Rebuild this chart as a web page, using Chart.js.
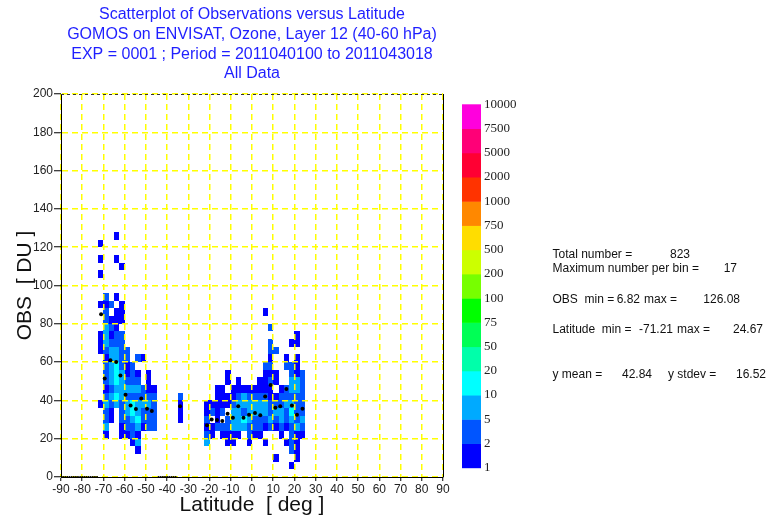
<!DOCTYPE html>
<html lang="en">
<head>
    <title>Scatterplot of Observations versus Latitude</title>
    <meta charset="utf-8">
    <script src="https://cdn.jsdelivr.net/npm/chart.js@4.4.0/dist/chart.umd.min.js"></script>
    <style>
        body { margin: 0; background: #fff; }
    </style>
</head>
<body>
    <canvas id="scatter-chart" width="775" height="525"></canvas>
    <script>
        // bin size of the 2D histogram
        let latStep = 2.5;
        let obsStep = 4;

        // one entry per latitude column: left edge, first obs bin, count class per 4 DU bin going up
        // '.' empty, '1' = 1, '2' = 2-4, '3' = 5-9, '4' = 10-19
        let colLat = [-72.5, -70, -67.5, -65, -62.5, -60, -57.5, -55, -52.5, -50, -47.5, -35,
                      -22.5, -20, -17.5, -15, -12.5, -10, -7.5, -5, -2.5,
                      0, 2.5, 5, 7.5, 10, 12.5, 15, 17.5, 20, 22.5];
        let colStart = [9, 5, 7, 9, 5, 5, 4, 3, 6, 6, 6, 7,
                        4, 5, 6, 5, 4, 4, 5, 6, 4,
                        5, 5, 4, 6, 2, 5, 4, 1, 2, 5];
        let colLevels = [
            "1......111...1...1.1.1",
            "1322321222123332212",
            "11232333332121.2",
            "3434443322111.1....1..1",
            "11222333322222.111....1",
            "122332321122",
            "12234423222",
            "13134332321.2",
            "122322...1",
            "22232111",
            "222221",
            "1112",
            "321211",
            "11.21",
            "211111",
            "12.2111",
            "1122.11.11",
            "11333211",
            "13333211",
            "342331",
            "12233321",
            "1223321",
            "12233211",
            "1.123321112......1",
            "232211212122.2",
            "1...12321.11..2",
            "1233221",
            "1.122322..21",
            "1.222234323322..1",
            "11113222233111.11",
            "123222222"
        ];
        let levelCount = { "1": 1, "2": 3, "3": 7, "4": 13 };

        // colour bar
        let barLabels = ["1", "2", "5", "10", "20", "50", "75", "100", "200", "500", "750", "1000", "2000", "5000", "7500", "10000"];
        let barBounds = [1, 2, 5, 10, 20, 50, 75, 100, 200, 500, 750, 1000, 2000, 5000, 7500, 10000];
        let barColors = ["#0000ff", "#0055ff", "#00aaff", "#00ffff", "#00ffaa", "#00ff55", "#00ff00", "#77ff00",
                         "#ccff00", "#ffdd00", "#ff8800", "#ff3300", "#ff0033", "#ff0077", "#ff00dd"];

        // mean obs per latitude bin (black dots)
        let meanLat = [-71.1, -69.4, -66.7, -64.0, -62.0, -59.6, -57.2, -54.7, -52.2, -49.5, -47.2, -33.9,
                       -21.2, -19.0, -16.5, -14.0, -11.5, -9.0, -6.5, -4.0, -1.4, 1.4, 3.9, 6.2, 8.8,
                       11.0, 13.3, 16.2, 18.8, 21.2, 23.8];
        let meanObs = [85, 51.4, 61, 60, 53, 43, 37.4, 35.5, 41, 35.7, 34.4, 37,
                       27, 30, 29.8, 29.3, 33, 31, 37, 31, 32.5, 33.4, 32.2, 42, 48,
                       36.2, 36.9, 46, 37.4, 32.5, 35.7];
        let zeroLat = [-89, -88, -87, -86, -85, -84, -83, -82, -81, -80, -79, -78, -77, -76, -75, -74, -73,
                       -44, -43, -42, -41, -40, -39, -38, -37, -36];

        let xTicks = [-90, -80, -70, -60, -50, -40, -30, -20, -10, 0, 10, 20, 30, 40, 50, 60, 70, 80, 90];
        let yTicks = [0, 20, 40, 60, 80, 100, 120, 140, 160, 180, 200];

        let titleLines = [
            "Scatterplot of Observations versus Latitude",
            "GOMOS on ENVISAT, Ozone, Layer 12 (40-60 hPa)",
            "EXP = 0001 ; Period = 2011040100 to 2011043018",
            "All Data"
        ];

        // statistics block: [text, x, y, align]
        let statsText = [
            ["Total number =", 552.5, 255, "left"], ["823", 690, 255, "right"],
            ["Maximum number per bin =", 552.5, 268.5, "left"], ["17", 737, 268.5, "right"],
            ["OBS  min =", 552.5, 300, "left"], ["6.82", 640, 300, "right"],
            ["max =", 644, 300, "left"], ["126.08", 740, 300, "right"],
            ["Latitude  min =", 552.5, 330, "left"], ["-71.21", 673, 330, "right"],
            ["max =", 677, 330, "left"], ["24.67", 763, 330, "right"],
            ["y mean =", 552.5, 375, "left"], ["42.84", 652, 375, "right"],
            ["y stdev =", 668, 375, "left"], ["16.52", 766, 375, "right"]
        ];

        function colourFor(count) {
            for (let i = barBounds.length - 2; i >= 0; i--) {
                if (count >= barBounds[i]) return barColors[i];
            }
            return null;
        }

        // histogram cells, drawn before the grid so the dashed lines sit on top
        let cellPlugin = {
            id: 'cells',
            beforeDraw(chart) {
                let ctx = chart.ctx;
                let xs = chart.scales.x, ys = chart.scales.y;
                ctx.save();
                for (let c = 0; c < colLat.length; c++) {
                    let x0 = Math.round(xs.getPixelForValue(colLat[c]));
                    let x1 = Math.round(xs.getPixelForValue(colLat[c] + latStep));
                    for (let j = 0; j < colLevels[c].length; j++) {
                        let ch = colLevels[c][j];
                        if (ch === ".") continue;
                        let k = colStart[c] + j;
                        let y0 = Math.round(ys.getPixelForValue(k * obsStep));
                        let y1 = Math.round(ys.getPixelForValue((k + 1) * obsStep));
                        ctx.fillStyle = colourFor(levelCount[ch]);
                        ctx.fillRect(x0, y1, x1 - x0, y0 - y1);
                    }
                }
                ctx.restore();
            }
        };

        let decorPlugin = {
            id: 'decor',
            afterDraw(chart) {
                let ctx = chart.ctx;
                let a = chart.chartArea;
                ctx.save();
                // frame
                ctx.strokeStyle = "#000";
                ctx.lineWidth = 1;
                ctx.beginPath();
                ctx.moveTo(a.right + 0.5, a.top);
                ctx.lineTo(a.right + 0.5, a.bottom);
                ctx.stroke();
                ctx.setLineDash([3, 3]);
                ctx.strokeStyle = "#333";
                ctx.beginPath();
                ctx.moveTo(a.left, a.top + 0.5);
                ctx.lineTo(a.right, a.top + 0.5);
                ctx.stroke();
                ctx.setLineDash([]);

                // title
                ctx.fillStyle = "#1f1fff";
                ctx.font = "16px 'Liberation Sans', Arial, sans-serif";
                ctx.textAlign = "center";
                ctx.textBaseline = "middle";
                let cx = (a.left + a.right) / 2;
                let ty = [15, 34.5, 54.5, 74];
                titleLines.forEach((t, i) => ctx.fillText(t, cx, ty[i]));

                // colour bar
                let bx = 462, bw = 19, btop = 104.3, bbot = 467.7;
                let seg = (bbot - btop) / barColors.length;
                for (let i = 0; i < barColors.length; i++) {
                    ctx.fillStyle = barColors[i];
                    ctx.fillRect(bx, bbot - (i + 1) * seg, bw, seg + 0.5);
                }
                ctx.fillStyle = "#222";
                ctx.font = "13px 'Liberation Serif', 'Times New Roman', serif";
                ctx.textAlign = "left";
                for (let i = 0; i < barLabels.length; i++) {
                    ctx.fillText(barLabels[i], 484, bbot - i * seg);
                }

                // statistics
                ctx.fillStyle = "#111";
                ctx.font = "12px 'Liberation Sans', Arial, sans-serif";
                statsText.forEach(s => {
                    ctx.textAlign = s[3];
                    ctx.fillText(s[0], s[1], s[2]);
                });
                ctx.restore();
            }
        };

        let tickFont = { family: "'Liberation Sans', Arial, sans-serif", size: 12 };
        let titleFont = { family: "'Liberation Sans', Arial, sans-serif", size: 21 };

        new Chart(document.getElementById("scatter-chart"), {
            type: 'scatter',
            data: {
                datasets: [{
                    data: meanLat.map((v, i) => ({ x: v, y: meanObs[i] })),
                    pointRadius: 2,
                    pointBorderWidth: 0,
                    pointBackgroundColor: "#000"
                }, {
                    data: zeroLat.map(v => ({ x: v, y: 0 })),
                    pointRadius: 1,
                    pointBorderWidth: 0,
                    pointBackgroundColor: "#000"
                }]
            },
            options: {
                responsive: false,
                animation: false,
                layout: { padding: { left: 4, top: 94, right: 332, bottom: 4 } },
                plugins: {
                    legend: { display: false },
                    tooltip: { enabled: false }
                },
                scales: {
                    x: {
                        type: 'linear',
                        min: -90,
                        max: 90,
                        afterBuildTicks: s => { s.ticks = xTicks.map(v => ({ value: v })); },
                        afterFit: s => { s.height = 44; },
                        ticks: { autoSkip: false, maxRotation: 0, color: "#222", font: tickFont, padding: 1 },
                        grid: { color: "#ffff00", lineWidth: 1.5, tickColor: "#000", tickLength: 4, tickWidth: 1 },
                        border: { color: "#000", width: 1, dash: [6, 4] },
                        title: { display: true, text: "Latitude  [ deg ]", color: "#111", font: titleFont, padding: { top: 2, bottom: 3 } }
                    },
                    y: {
                        min: 0,
                        max: 200,
                        afterBuildTicks: s => { s.ticks = yTicks.map(v => ({ value: v })); },
                        afterFit: s => { s.width = 57; },
                        ticks: { color: "#222", font: tickFont, padding: 1 },
                        grid: { color: "#ffff00", lineWidth: 1.5, tickColor: "#000", tickLength: 7, tickWidth: 1 },
                        border: { color: "#000", width: 1, dash: [6, 4] },
                        title: { display: true, text: "OBS  [ DU ]", color: "#111", font: titleFont, padding: { top: 9, bottom: 0 } }
                    }
                }
            },
            plugins: [cellPlugin, decorPlugin]
        });
    </script>
</body>
</html>
